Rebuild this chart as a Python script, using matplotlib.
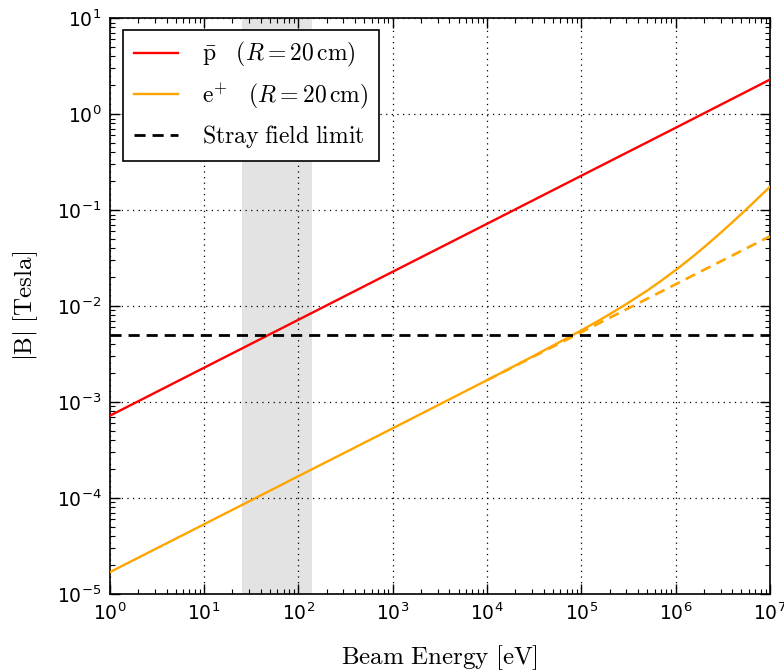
import math
import matplotlib
matplotlib.use("Agg")
import matplotlib.pyplot as plt
from matplotlib.ticker import LogLocator, FuncFormatter, NullFormatter

# Data (beam energy in eV, field in Tesla)
energy_pbar = [1, 1e1, 1e2, 1e3, 1e4, 1e5, 1e6, 1e7]
b_pbar = [7.2e-4, 2.28e-3, 7.2e-3, 2.28e-2, 7.2e-2, 0.228, 0.72, 2.29]

energy_pos = [1, 1e1, 1e2, 1e3, 1e4, 3e4, 1e5, 1.5e5, 2e5, 3e5, 5e5, 7e5, 1e6, 1.5e6,
              2e6, 3e6, 4e6, 5e6, 7e6, 1e7]
b_pos = [1.69e-5, 5.33e-5, 1.69e-4, 5.33e-4, 1.69e-3, 2.96e-3, 5.58e-3, 6.99e-3, 8.24e-3,
         1.05e-2, 1.45e-2, 1.83e-2, 2.37e-2, 3.24e-2, 4.1e-2, 5.79e-2, 7.47e-2, 9.15e-2,
         1.25e-1, 1.75e-1]

energy_pos_nr = [1e4, 1e7]
b_pos_nr = [1.69e-3, 5.33e-2]

stray_limit = 5e-3
band = [25, 140]

plt.rcParams['mathtext.fontset'] = 'cm'
plt.rcParams['font.family'] = 'DejaVu Sans'

fig = plt.figure(figsize=(7.84, 6.72), dpi=100)
ax = fig.add_axes([0.140, 0.116, 0.842, 0.857])

ax.axvspan(band[0], band[1], color='#e3e3e3', lw=0, zorder=0)
ax.plot(energy_pbar, b_pbar, color='red', lw=1.7,
        label=r'$\bar{\mathrm{p}}\ \ \ (R = 20\,\mathrm{cm})$', zorder=3)
ax.plot(energy_pos, b_pos, color='orange', lw=1.7,
        label=r'$\mathrm{e}^{+}\ \ \ (R = 20\,\mathrm{cm})$', zorder=3)
ax.plot(energy_pos_nr, b_pos_nr, color='orange', lw=1.9, ls=(0, (4, 2.5)), zorder=3)
ax.axhline(stray_limit, color='black', lw=2, ls=(0, (4, 2.5)),
           label=r'$\mathrm{Stray\ field\ limit}$', zorder=3)

ax.set_xscale('log')
ax.set_yscale('log')
ax.set_xlim(1, 1e7)
ax.set_ylim(1e-5, 10)

ax.xaxis.set_major_locator(LogLocator(base=10, numticks=20))
ax.yaxis.set_major_locator(LogLocator(base=10, numticks=20))
ax.xaxis.set_minor_locator(LogLocator(base=10, subs=range(2, 10), numticks=100))
ax.yaxis.set_minor_locator(LogLocator(base=10, subs=range(2, 10), numticks=100))
ax.xaxis.set_minor_formatter(NullFormatter())
ax.yaxis.set_minor_formatter(NullFormatter())

fmt = FuncFormatter(lambda v, p: r'$10^{%d}$' % round(math.log10(v)))
ax.xaxis.set_major_formatter(fmt)
ax.yaxis.set_major_formatter(fmt)

ax.tick_params(which='both', direction='in', top=True, right=True)
ax.tick_params(which='major', length=7, width=1, labelsize=13.5, pad=6)
ax.tick_params(which='minor', length=3.5, width=0.8)

ax.grid(True, which='major', color='black', ls=(0, (1, 3.5)), lw=0.9)
for s in ax.spines.values():
    s.set_linewidth(1.2)

ax.set_xlabel(r'$\mathrm{Beam\ Energy\ [eV]}$', fontsize=18, labelpad=14)
ax.set_ylabel(r'$|\mathrm{B}|\ \mathrm{[Tesla]}$', fontsize=18, labelpad=12)

leg = ax.legend(loc='upper left', fontsize=17, fancybox=False, edgecolor='black',
                framealpha=1, handlelength=1.9, borderpad=0.45, labelspacing=0.5,
                handletextpad=1.0, borderaxespad=0, bbox_to_anchor=(0.02, 0.98))
leg.get_frame().set_linewidth(1.2)

fig.canvas.draw()
for lab in ax.get_xticklabels() + ax.get_yticklabels():
    lab.set_math_fontfamily('dejavusans')

fig.savefig('out.png', dpi=100)
